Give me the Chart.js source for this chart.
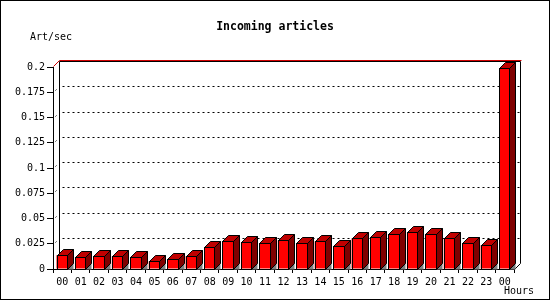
<!DOCTYPE html>
<html>
<head>
<meta charset="utf-8">
<script src="https://cdn.jsdelivr.net/npm/chart.js@4/dist/chart.umd.min.js"></script>
<style>
  html,body{margin:0;padding:0;background:#fff}
  #wrap{width:550px;height:300px;position:relative}
</style>
</head>
<body>
<div id="wrap"><canvas id="chart" width="550" height="300"></canvas></div>
<script>
const hours = ['00','01','02','03','04','05','06','07','08','09','10','11','12','13','14','15','16','17','18','19','20','21','22','23','00']
const articlesPerSec = [0.0136,0.0116,0.0126,0.0126,0.0116,0.0076,0.0096,0.0126,0.0215,0.0274,0.0264,0.0254,
                        0.0284,0.0254,0.0274,0.0225,0.0304,0.0314,0.0344,0.0363,0.0344,0.0304,0.0254,0.0235,0.199]
const yTickValues = [0,0.025,0.05,0.075,0.1,0.125,0.15,0.175,0.2]
const yTickLabels = ['0','0.025','0.05','0.075','0.1','0.125','0.15','0.175','0.2']

const DEPTH = 6
const MONO = "'DejaVu Sans Mono', 'Liberation Mono', monospace"

/* -------------------- 3D frame, grid and bar faces -------------------- */
const frame3d = {
  id:'frame3d',
  beforeDatasetsDraw(chart){
    const {ctx, chartArea:a, scales:{y}} = chart
    const L = Math.round(a.left)+0.5, R = Math.round(a.right)+0.5
    const T = Math.round(a.top)+0.5, B = Math.round(a.bottom)+0.5
    ctx.save()
    // dotted grid on the back wall + left wall
    ctx.strokeStyle = '#000'; ctx.lineWidth = 1
    ctx.setLineDash([2,3])
    yTickValues.forEach(v=>{
      if(v===0 || v===0.2) return
      const py = Math.round(y.getPixelForValue(v))+0.5
      ctx.beginPath()
      ctx.moveTo(L+DEPTH+3, py-DEPTH); ctx.lineTo(R+DEPTH, py-DEPTH)
      ctx.stroke()
      ctx.beginPath()
      ctx.moveTo(L+2, py-2); ctx.lineTo(L+3, py-3)
      ctx.stroke()
    })
    ctx.setLineDash([])
    // back wall edges
    ctx.beginPath()
    ctx.moveTo(L+DEPTH, B-DEPTH); ctx.lineTo(L+DEPTH, T-DEPTH)
    ctx.lineTo(R+DEPTH, T-DEPTH); ctx.lineTo(R+DEPTH, B-DEPTH)
    ctx.lineTo(R, B)
    ctx.stroke()
    // red top rim
    ctx.strokeStyle = '#d00000'
    ctx.beginPath()
    ctx.moveTo(L, T-1); ctx.lineTo(L+DEPTH, T-DEPTH-1); ctx.lineTo(R+DEPTH+1, T-DEPTH-1)
    ctx.stroke()
    ctx.restore()
  },
  afterDatasetsDraw(chart){
    const {ctx} = chart
    ctx.save()
    ctx.strokeStyle = '#000'; ctx.lineWidth = 1
    chart.getDatasetMeta(0).data.forEach(bar=>{
      const p = bar.getProps(['x','y','base','width'], true)
      const l = Math.round(p.x - p.width/2)+0.5
      const r = Math.round(p.x + p.width/2)-0.5
      const t = Math.round(p.y)+0.5
      const b = Math.round(p.base)+0.5
      // floor shadow
      ctx.fillStyle = '#808080'
      ctx.beginPath(); ctx.moveTo(r,b); ctx.lineTo(r+DEPTH,b-DEPTH); ctx.lineTo(r+DEPTH,b); ctx.closePath(); ctx.fill()
      // side face
      ctx.fillStyle = '#800000'
      ctx.beginPath(); ctx.moveTo(r,t); ctx.lineTo(r+DEPTH,t-DEPTH); ctx.lineTo(r+DEPTH,b-DEPTH); ctx.lineTo(r,b); ctx.closePath()
      ctx.fill(); ctx.stroke()
      // top face
      ctx.fillStyle = '#c00000'
      ctx.beginPath(); ctx.moveTo(l,t); ctx.lineTo(l+DEPTH,t-DEPTH); ctx.lineTo(r+DEPTH,t-DEPTH); ctx.lineTo(r,t); ctx.closePath()
      ctx.fill(); ctx.stroke()
      // front outline
      ctx.strokeRect(l, t, r-l, b-t)
    })
    ctx.restore()
  },
  afterDraw(chart){
    const {ctx} = chart
    ctx.save()
    ctx.fillStyle = '#000'
    ctx.textBaseline = 'middle'
    ctx.font = `bold 11.5px ${MONO}`
    ctx.textAlign = 'center'
    ctx.fillText('Incoming articles', 275, 27)
    ctx.font = `10px ${MONO}`
    ctx.textAlign = 'left'
    ctx.fillText('Art/sec', 30, 37)
    ctx.fillText('Hours', 504, 291)
    ctx.strokeStyle = '#000'
    ctx.strokeRect(0.5, 0.5, 549, 299)
    ctx.restore()
  }
}

new Chart(document.getElementById('chart'), {
  type:'bar',
  data:{labels:hours, datasets:[{data:articlesPerSec, backgroundColor:'#ff0000', borderWidth:0,
    barPercentage:0.62, categoryPercentage:1}]},
  options:{
    responsive:false, animation:false,
    layout:{padding:{left:0, top:67, right:36, bottom:0}},
    plugins:{legend:{display:false}, tooltip:{enabled:false}, title:{display:false}},
    scales:{
      x:{
        offset:true,
        grid:{offset:true, drawOnChartArea:false, tickLength:4, color:'#000'},
        border:{color:'#000'},
        ticks:{color:'#000', padding:3, maxRotation:0, autoSkip:false, font:{family:MONO, size:10}},
        afterFit(s){ s.height = 31 }
      },
      y:{
        min:0, max:0.2,
        afterBuildTicks(s){ s.ticks = yTickValues.map(v=>({value:v})) },
        grid:{drawOnChartArea:false, tickLength:6, color:'#000'},
        border:{color:'#000'},
        ticks:{color:'#000', padding:2, font:{family:MONO, size:10},
          callback:(v,i)=>yTickLabels[i]},
        afterFit(s){ s.width = 53 }
      }
    }
  },
  plugins:[frame3d]
})
</script>
</body>
</html>
